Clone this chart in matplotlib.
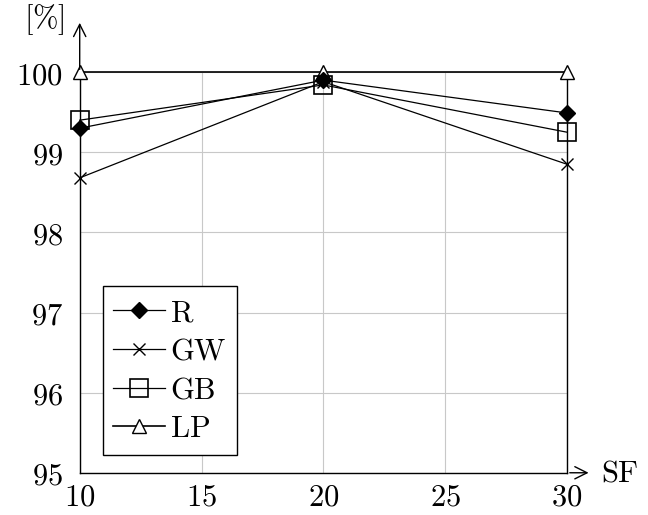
import matplotlib.pyplot as plt
import matplotlib as mpl

mpl.rcParams.update({
    'font.size': 22,
    'mathtext.fontset': 'cm',
    'font.family': 'serif',
    'font.serif': ['DejaVu Serif']})

sf = [10, 20, 30]
r_vals = [99.30, 99.90, 99.49]
gw_vals = [98.68, 99.88, 98.85]
gb_vals = [99.40, 99.84, 99.25]
lp_vals = [100.0, 100.0, 100.0]

xticks = [10, 15, 20, 25, 30]
yticks = [95, 96, 97, 98, 99, 100]

fig = plt.figure(figsize=(6.48, 5.15), dpi=100)
ax = fig.add_axes([0.123, 0.082, 0.752, 0.778])

ax.plot(sf, r_vals, color='black', lw=0.9, marker='D', ms=8.5, mfc='black', label=r'$\mathrm{R}$', zorder=5, clip_on=False)
ax.plot(sf, gw_vals, color='black', lw=0.9, marker='x', ms=8, mew=1.0, label=r'$\mathrm{GW}$', zorder=4, clip_on=False)
ax.plot(sf, gb_vals, color='black', lw=0.9, marker='s', ms=13, mfc='none', mew=1.2, label=r'$\mathrm{GB}$', zorder=4, clip_on=False)
ax.plot(sf, lp_vals, color='black', lw=1.2, marker='^', ms=10, mfc='white', mew=1.0, label=r'$\mathrm{LP}$', zorder=3, clip_on=False)

ax.set_xlim(10, 30)
ax.set_ylim(95, 100)
ax.set_xticks(xticks)
ax.set_yticks(yticks)
ax.set_xticklabels(['$%d$' % t for t in xticks])
ax.set_yticklabels(['$%d$' % t for t in yticks])
ax.grid(True, color='#c8c8c8', lw=0.8)
ax.tick_params(axis='y', length=0, pad=12)
ax.tick_params(axis='x', length=0, pad=6)

ax.spines['top'].set_visible(False)
for s in ['left', 'bottom', 'right']:
    ax.spines[s].set_linewidth(1.0)

# axis arrows
ax.annotate('', xy=(0, 1.13), xycoords='axes fraction', xytext=(0, 1.0),
            arrowprops=dict(arrowstyle='->', lw=1.0, color='black'))
ax.annotate('', xy=(1.05, 0), xycoords='axes fraction', xytext=(1.0, 0),
            arrowprops=dict(arrowstyle='->', lw=1.0, color='black'))
ax.text(-0.03, 1.13, r'$[\%]$', transform=ax.transAxes, ha='right', va='center')
ax.text(1.07, 0.0, r'$\mathrm{SF}$', transform=ax.transAxes, ha='left', va='center')

leg = ax.legend(loc='lower left', bbox_to_anchor=(0.047, 0.045), borderaxespad=0,
                fancybox=False, edgecolor='black', framealpha=1, handlelength=1.7,
                handletextpad=0.15, labelspacing=0.25, borderpad=0.35, fontsize=22)
leg.get_frame().set_linewidth(1.0)

fig.savefig('out.png', dpi=100)
